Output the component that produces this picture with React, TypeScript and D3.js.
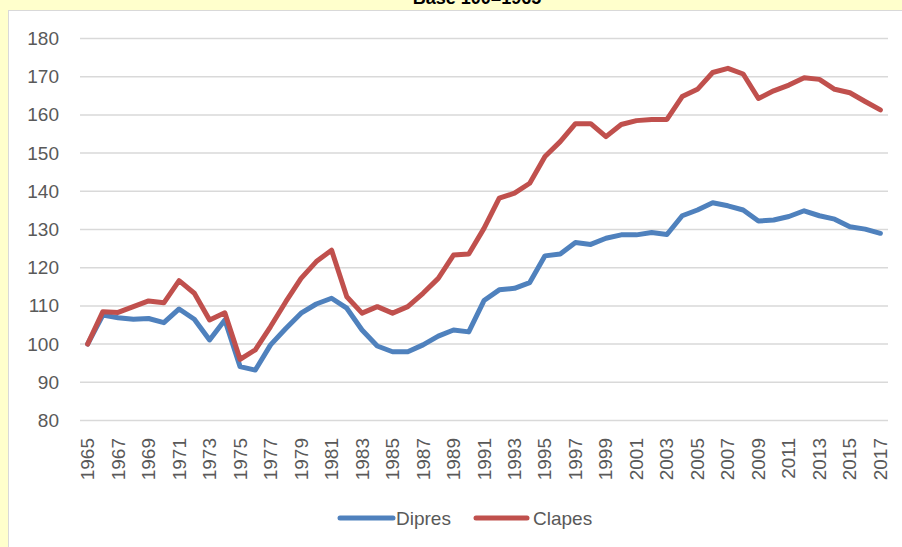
import React from 'react';
import * as d3 from 'd3';

const years = d3.range(1965, 2018).map(String);

const dipres = [
  100, 107.6, 106.9, 106.5, 106.7, 105.6, 109.2, 106.5, 101.1, 106.3,
  94.1, 93.2, 99.8, 104.1, 108.1, 110.5, 112, 109.4, 103.7, 99.5,
  98, 98, 99.8, 102.1, 103.7, 103.2, 111.4, 114.2, 114.6, 116.1,
  123.1, 123.6, 126.6, 126.1, 127.7, 128.6, 128.6, 129.2, 128.7, 133.6,
  135.1, 137, 136.2, 135.1, 132.2, 132.5, 133.4, 134.9, 133.6, 132.7,
  130.7, 130.1, 129,
];

const clapes = [
  100, 108.5, 108.3, 109.8, 111.3, 110.8, 116.6, 113.3, 106.3, 108.2,
  96, 98.5, 104.6, 111.1, 117.2, 121.6, 124.6, 112.4, 108.1, 109.8,
  108.1, 109.8, 113.3, 117.2, 123.3, 123.6, 130.3, 138.2, 139.5, 142.1,
  149.1, 153, 157.7, 157.7, 154.3, 157.5, 158.5, 158.8, 158.8, 164.8,
  166.7, 171.1, 172.2, 170.7, 164.3, 166.3, 167.8, 169.7, 169.3, 166.7,
  165.8, 163.5, 161.3,
];

const yTicks = [80, 90, 100, 110, 120, 130, 140, 150, 160, 170, 180];
const xLabels = years.filter((_, i) => i % 2 === 0);

const series = [
  { name: 'Dipres', values: dipres, color: '#4F81BD' },
  { name: 'Clapes', values: clapes, color: '#C0504D' },
];

const W = 902;
const H = 547;
const font = '"Liberation Sans", Arial, sans-serif';

export default function App() {
  const x = d3.scaleBand<string>().domain(years).range([80, 888]);
  const y = d3.scaleLinear().domain([80, 180]).range([420.5, 38.5]);
  const cx = (yr: string) => (x(yr) as number) + x.bandwidth() / 2;

  const line = d3
    .line<number>()
    .x((_, i) => cx(years[i]))
    .y((d) => y(d));

  const legendPos = [
    { x1: 340, x2: 393, tx: 396 },
    { x1: 476, x2: 527, tx: 533 },
  ];

  return (
    <svg
      width={W}
      height={H}
      style={{ position: 'absolute', left: 0, top: 0 }}
    >
      <rect x={0} y={0} width={W} height={H} fill="#FFFFCC" />
      <rect x={8.5} y={10.5} width={W} height={H} fill="#fff" stroke="#d9d9d9" />
      <text
        x={477}
        y={4}
        textAnchor="middle"
        fontFamily={font}
        fontWeight="bold"
        fontSize={18}
        fill="#000"
      >
        Base 100=1965
      </text>

      {yTicks.map((t) => (
        <g key={t}>
          <line x1={80} x2={888} y1={y(t)} y2={y(t)} stroke="#d9d9d9" strokeWidth={1.5} />
          <text
            x={59}
            y={y(t)}
            textAnchor="end"
            dominantBaseline="central"
            fontFamily={font}
            fontSize={19}
            fill="#595959"
          >
            {t}
          </text>
        </g>
      ))}

      {xLabels.map((yr) => (
        <text
          key={yr}
          transform={`translate(${cx(yr)},438) rotate(-90)`}
          textAnchor="end"
          dominantBaseline="central"
          fontFamily={font}
          fontSize={19}
          fill="#595959"
        >
          {yr}
        </text>
      ))}

      {series.map((s) => (
        <path
          key={s.name}
          d={line(s.values) as string}
          fill="none"
          stroke={s.color}
          strokeWidth={5}
          strokeLinejoin="round"
          strokeLinecap="round"
        />
      ))}

      {series.map((s, i) => (
        <g key={s.name}>
          <line
            x1={legendPos[i].x1}
            x2={legendPos[i].x2}
            y1={518}
            y2={518}
            stroke={s.color}
            strokeWidth={5}
            strokeLinecap="round"
          />
          <text
            x={legendPos[i].tx}
            y={518}
            dominantBaseline="central"
            fontFamily={font}
            fontSize={19}
            fill="#595959"
          >
            {s.name}
          </text>
        </g>
      ))}
    </svg>
  );
}
